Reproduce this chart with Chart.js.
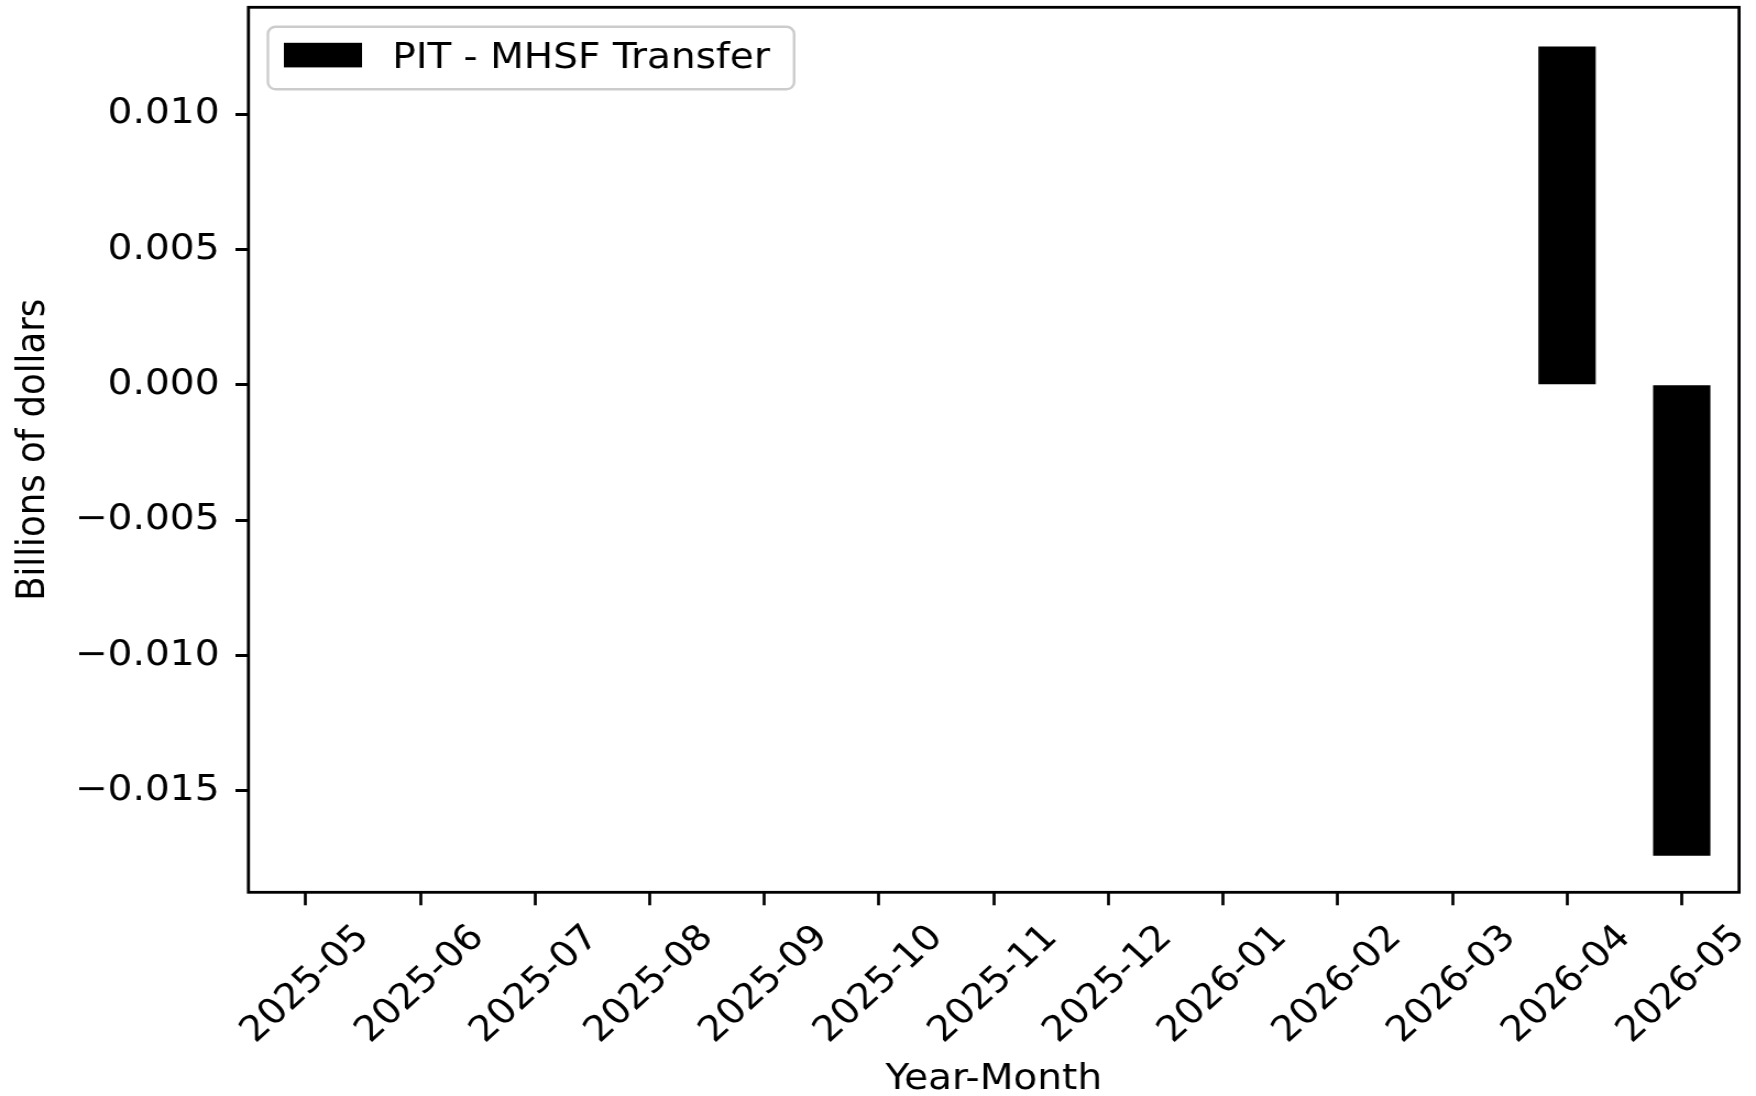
<!DOCTYPE html>
<html>
<head>
<meta charset="utf-8">
<title>PIT - MHSF Transfer</title>
<script src="https://cdn.jsdelivr.net/npm/chart.js@4/dist/chart.umd.min.js"></script>
<style>
  html, body { margin: 0; padding: 0; background: #ffffff; overflow: hidden; }
  /* the figure is drawn narrower and widened to 1756px, so text comes out a little wide */
  #wrap { width: 1596px; height: 1096px; transform: scaleX(1.10025); transform-origin: 0 0; }
</style>
</head>
<body>
<div id="wrap"><canvas id="transferChart" width="1596" height="1096"></canvas></div>
<script>
const months = [
  '2025-05', '2025-06', '2025-07', '2025-08', '2025-09', '2025-10', '2025-11',
  '2025-12', '2026-01', '2026-02', '2026-03', '2026-04', '2026-05',
];

// billions of dollars per month
const transferValues = [0, 0, 0, 0, 0, 0, 0, 0, 0, 0, 0, 0.0125, -0.0174];

const yTicks = [-0.015, -0.010, -0.005, 0.000, 0.005, 0.010];
const yMin = -0.01875;
const yMax = 0.01395;

const FONT = '"DejaVu Sans", sans-serif';
const FONT_SIZE = 35.5;

const formatTick = (value) => (value < -1e-12 ? '\u2212' : '') + Math.abs(value).toFixed(3);

// box around the plot area
const axesFrame = {
  id: 'axesFrame',
  afterDraw(chart) {
    const { ctx, chartArea } = chart;
    ctx.save();
    ctx.strokeStyle = '#000000';
    ctx.lineWidth = 2.8;
    ctx.strokeRect(chartArea.left, chartArea.top,
      chartArea.right - chartArea.left, chartArea.bottom - chartArea.top);
    ctx.restore();
  },
};

// legend in the upper left corner, inside the axes
const insetLegend = {
  id: 'insetLegend',
  afterDraw(chart) {
    const { ctx, chartArea } = chart;
    const ds = chart.data.datasets[0];
    ctx.save();
    ctx.font = `${FONT_SIZE}px ${FONT}`;
    const textW = ctx.measureText(ds.label).width;
    const x = chartArea.left + 17.7;
    const y = chartArea.top + 19.5;
    const w = 113 + textW + 22;
    const h = 62.5;
    ctx.beginPath();
    ctx.roundRect(x, y, w, h, 7);
    ctx.fillStyle = 'rgba(255, 255, 255, 0.8)';
    ctx.fill();
    ctx.strokeStyle = '#cccccc';
    ctx.lineWidth = 2.4;
    ctx.stroke();
    ctx.fillStyle = ds.backgroundColor;
    ctx.fillRect(x + 14.5, y + 16, 71, 24.6);
    ctx.fillStyle = '#000000';
    ctx.textBaseline = 'alphabetic';
    ctx.textAlign = 'left';
    ctx.fillText(ds.label, x + 113, y + 41);
    ctx.restore();
  },
};

new Chart(document.getElementById('transferChart'), {
  type: 'bar',
  data: {
    labels: months,
    datasets: [{
      label: 'PIT - MHSF Transfer',
      data: transferValues,
      backgroundColor: '#000000',
      borderWidth: 0,
      barPercentage: 0.5,
      categoryPercentage: 1.0,
    }],
  },
  options: {
    responsive: false,
    animation: false,
    events: [],
    layout: { padding: { top: 7.3, right: 15.4, bottom: 0, left: 0 } },
    plugins: {
      legend: { display: false },
      tooltip: { enabled: false },
    },
    scales: {
      x: {
        offset: true,
        border: { display: false },
        grid: {
          offset: false,
          drawOnChartArea: false,
          drawTicks: true,
          tickLength: 13,
          tickWidth: 2.7,
          tickColor: '#000000',
          color: '#000000',
        },
        ticks: {
          autoSkip: false,
          minRotation: 45,
          maxRotation: 45,
          labelOffset: 52.5,
          padding: 12,
          color: '#000000',
          font: { family: FONT, size: FONT_SIZE, lineHeight: 1.2 },
        },
        title: {
          display: true,
          text: 'Year-Month',
          color: '#000000',
          padding: { top: 0, bottom: 0 },
          font: { family: FONT, size: FONT_SIZE, lineHeight: 0.92 },
        },
        afterFit(scale) {
          scale.height = 203.7;
          scale.paddingLeft = 0;
          scale.paddingRight = 0;
        },
      },
      y: {
        min: yMin,
        max: yMax,
        border: { display: false },
        grid: {
          drawOnChartArea: false,
          drawTicks: true,
          tickLength: 11.8,
          tickWidth: 3,
          tickColor: '#000000',
          color: '#000000',
        },
        afterBuildTicks(scale) {
          scale.ticks = yTicks.map((value) => ({ value }));
        },
        ticks: {
          padding: 14.5,
          color: '#000000',
          font: { family: FONT, size: FONT_SIZE, lineHeight: 1.2 },
          callback: (value) => formatTick(value),
        },
        title: {
          display: true,
          text: 'Billions of dollars',
          color: '#000000',
          padding: { top: 9, bottom: 0 },
          font: { family: FONT, size: FONT_SIZE, lineHeight: 1.2 },
        },
        afterFit(scale) {
          scale.width = 225.8;
          scale.paddingTop = 0;
          scale.paddingBottom = 0;
        },
      },
    },
  },
  plugins: [axesFrame, insetLegend],
});
</script>
</body>
</html>
